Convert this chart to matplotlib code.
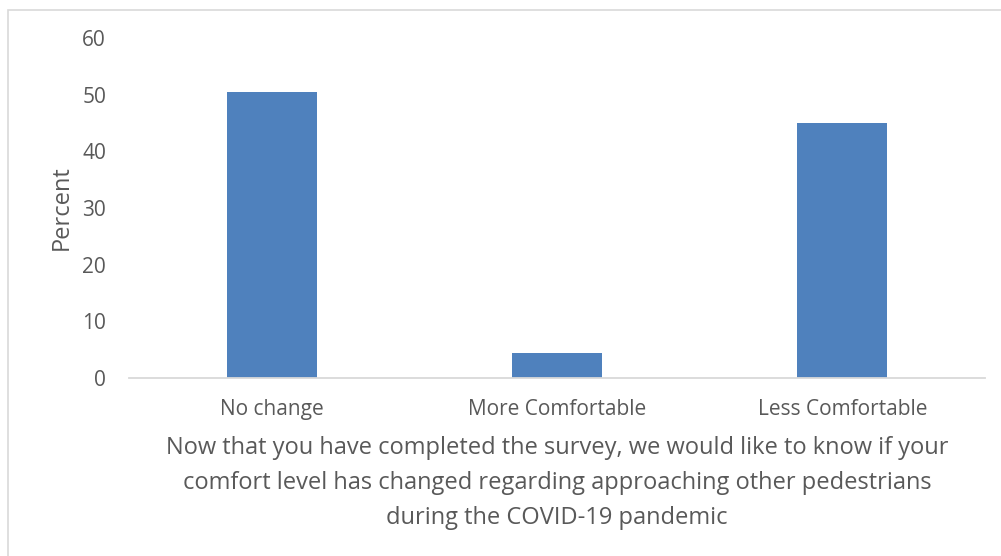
import matplotlib.pyplot as plt
from matplotlib.patches import Rectangle

categories = ['No change', 'More Comfortable', 'Less Comfortable']
percent = [50.4, 4.4, 45.0]
yticks = [0, 10, 20, 30, 40, 50, 60]

xlabel = ('Now that you have completed the survey, we would like to know if your\n'
          'comfort level has changed regarding approaching other pedestrians\n'
          'during the COVID-19 pandemic')

plt.rcParams['font.family'] = ['Open Sans', 'DejaVu Sans']
text_color = '#595959'

fig = plt.figure(figsize=(10.01, 5.56), dpi=100)
W, H = 1001, 556
ax = fig.add_axes([129 / W, 1 - 378 / H, (985 - 129) / W, (378 - 38) / H])

ax.bar(range(len(categories)), percent, width=0.316, color='#4f81bd')
ax.set_xlim(-0.5, len(categories) - 0.5)
ax.set_ylim(0, 60)
ax.set_yticks(yticks)
ax.set_xticks(range(len(categories)))
ax.set_xticklabels(categories)

for side in ['top', 'right', 'left']:
    ax.spines[side].set_visible(False)
ax.spines['bottom'].set_color('#d9d9d9')
ax.spines['bottom'].set_linewidth(1.3)
ax.tick_params(axis='both', length=0, labelsize=15, labelcolor=text_color)
ax.tick_params(axis='y', pad=16.5)
ax.tick_params(axis='x', pad=15)

ax.set_ylabel('Percent', fontsize=17, color=text_color, labelpad=6)
ax.set_xlabel(xlabel, fontsize=17, color=text_color, labelpad=12, linespacing=1.6)

# outer chart border
fig.patches.append(Rectangle((8 / W, -0.1), 1.2, 1 - 10 / H + 0.1,
                             transform=fig.transFigure, fill=False,
                             edgecolor='#d9d9d9', linewidth=1.2))

fig.savefig('out.png', dpi=100)
